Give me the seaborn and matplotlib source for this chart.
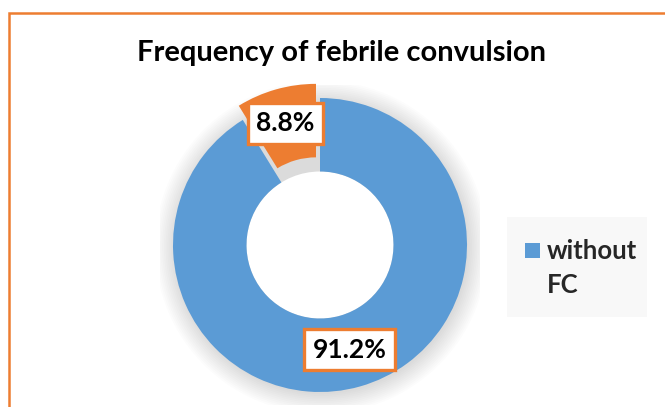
import matplotlib
matplotlib.use("Agg")
import matplotlib.pyplot as plt
import seaborn as sns
from matplotlib.patches import Rectangle, Circle
import numpy as np

categories = ["without FC", "with FC"]
values = [91.2, 8.8]
colors = ["#5B9BD5", "#ED7D31"]
title = "Frequency of febrile convulsion"

sns.set_theme(style="white")
plt.rcParams['font.family'] = ['Lato', 'DejaVu Sans']

W, H = 665, 407
fig = plt.figure(figsize=(W/100, H/100), dpi=100)
fig.patch.set_facecolor("white")

# outer chart border (cropped at right/bottom)
fig.patches.append(Rectangle((8.5/W, -0.05), 1.2, (H-12.5)/H + 0.05, transform=fig.transFigure,
                             fill=False, edgecolor="#ED7D31", linewidth=1.8))

fig.text(342/W, 1 - 53/H, title, ha="center", va="center", fontsize=21, fontweight="bold", color="black")

cx, cy, R = 320, 245, 147
half = 160
ax = fig.add_axes([(cx-half)/W, (H-cy-half)/H, 2*half/W, 2*half/H])

# soft shadow behind the ring
for k in range(12):
    ax.add_patch(Circle((0.01, -0.015), 1.0 + 0.012*k, facecolor="black", edgecolor="none",
                        alpha=0.012, zorder=0))

wedges, _ = ax.pie(values, colors=colors, startangle=90, counterclock=False,
                   explode=[0, 0.1], radius=1.0,
                   wedgeprops=dict(width=0.5, edgecolor="none", zorder=2))
ax.add_patch(Circle((0, 0), 0.5, facecolor="white", edgecolor="none", zorder=1))
ax.set_xlim(-half/R, half/R)
ax.set_ylim(-half/R, half/R)
ax.set_aspect("equal")
ax.axis("off")

label_r = [0.74, 0.86]
for w, v, r in zip(wedges, values, label_r):
    ang = np.deg2rad((w.theta1 + w.theta2) / 2)
    ax.text(r*np.cos(ang), r*np.sin(ang), f"{v:.1f}%", ha="center", va="center",
            fontsize=19, fontweight="bold", color="black", zorder=5,
            bbox=dict(boxstyle="square,pad=0.32", facecolor="white", edgecolor="#ED7D31", linewidth=2.4))

# legend (only the first entry is visible in the frame)
fig.patches.append(Rectangle((507/W, 1 - 317/H), 140/W, 100/H, transform=fig.transFigure,
                             facecolor="#F8F8F8", edgecolor="none"))
fig.patches.append(Rectangle((525/W, 1 - 258/H), 15/W, 15/H, transform=fig.transFigure,
                             facecolor=colors[0], edgecolor="none"))
fig.text(547/W, 1 - 251/H, "without", ha="left", va="center", fontsize=18.5, fontweight="bold")
fig.text(547/W, 1 - 285/H, "FC", ha="left", va="center", fontsize=18.5, fontweight="bold")

fig.savefig("out.png", dpi=100)
